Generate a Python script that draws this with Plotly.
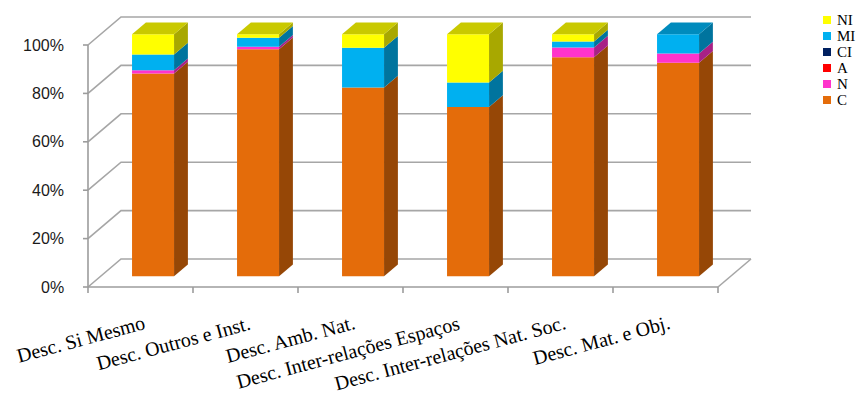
import plotly.graph_objects as go

# ---- data -------------------------------------------------------------
categories = [
    "Desc. Si Mesmo",
    "Desc. Outros e Inst.",
    "Desc. Amb. Nat.",
    "Desc. Inter-relações Espaços",
    "Desc. Inter-relações Nat. Soc.",
    "Desc. Mat. e Obj.",
]
series_names = ["C", "N", "A", "CI", "MI", "NI"]   # stacking order, bottom -> top
C = [83.8, 93.8, 78.0, 70.0, 90.5, 88.3]
N = [1.4, 1.1, 0.0, 0.0, 4.1, 3.8]
A = [0.0, 0.0, 0.0, 0.0, 0.0, 0.0]
CI = [0.0, 0.0, 0.0, 0.0, 0.0, 0.0]
MI = [6.5, 3.7, 16.5, 10.1, 2.4, 7.9]
NI = [8.3, 1.4, 5.5, 19.9, 3.0, 0.0]
series_values = [C, N, A, CI, MI, NI]
series_colors = ["#E46C0A", "#FF33CC", "#FF0000", "#002060", "#00B0F0", "#FFFF00"]
y_ticks = [0, 20, 40, 60, 80, 100]
y_tick_labels = ["0%", "20%", "40%", "60%", "80%", "100%"]

SERIF = '"Liberation Serif", "Times New Roman", Times, serif'
SANS = '"Liberation Sans", Arial, sans-serif'

# ---- oblique 3-D projection (category units, percent units, depth 0..1) ----
PX_PER_CAT = 105.0
PX_PER_PCT = 2.42
DEPTH_X = 33.0 / PX_PER_CAT
DEPTH_Y = 28.0 / PX_PER_PCT
BAR_HALF = 0.2
Z_FRONT, Z_BACK = 0.38, 0.80
GRID = "#A6A6A6"
AXIS = "#9C9C9C"


def proj(x, v, z):
    return x + DEPTH_X * z, v + DEPTH_Y * z


def shade(hex_color, f):
    h = hex_color.lstrip("#")
    r, g, b = (int(h[i:i + 2], 16) for i in (0, 2, 4))
    return "rgb({},{},{})".format(int(r * f), int(g * f), int(b * f))


fig = go.Figure()


def polygon(points, color):
    xs, ys = zip(*[proj(*p) for p in points])
    fig.add_trace(go.Scatter(
        x=list(xs) + [xs[0]], y=list(ys) + [ys[0]], mode="lines",
        fill="toself", fillcolor=color, line=dict(width=0, color=color),
        hoverinfo="skip", showlegend=False))


def segment(points, color, width=1.6):
    xs, ys = zip(*[proj(*p) for p in points])
    fig.add_trace(go.Scatter(
        x=list(xs), y=list(ys), mode="lines",
        line=dict(width=width, color=color),
        hoverinfo="skip", showlegend=False))


n = len(categories)
left, right = -0.5, n - 0.5

# walls: side-wall diagonals and back-wall gridlines
for v in y_ticks:
    segment([(left, v, 0), (left, v, 1), (right, v, 1)], GRID)
# floor right edge
segment([(right, 0, 0), (right, 0, 1)], GRID)

# bars
for i in range(n):
    xl, xr = i - BAR_HALF, i + BAR_HALF
    base = 0.0
    top_color = None
    for vals, col in zip(series_values, series_colors):
        val = vals[i]
        if val <= 0:
            continue
        v0, v1 = base, base + val
        polygon([(xl, v0, Z_FRONT), (xr, v0, Z_FRONT), (xr, v1, Z_FRONT), (xl, v1, Z_FRONT)], col)
        polygon([(xr, v0, Z_FRONT), (xr, v0, Z_BACK), (xr, v1, Z_BACK), (xr, v1, Z_FRONT)],
                shade(col, 0.66))
        base = v1
        top_color = col
    polygon([(xl, base, Z_FRONT), (xr, base, Z_FRONT), (xr, base, Z_BACK), (xl, base, Z_BACK)],
            shade(top_color, 0.79))

# front axes with tick marks
segment([(left, 0, 0), (left, 100, 0)], AXIS)
for v in y_ticks:
    segment([(left - 5 / PX_PER_CAT, v, 0), (left, v, 0)], AXIS)
segment([(left, 0, 0), (right, 0, 0)], AXIS)
for k in range(n + 1):
    segment([(left + k, 0, 0), (left + k, -6 / PX_PER_PCT, 0)], AXIS)

annotations = []
# value axis labels
for v, lab in zip(y_ticks, y_tick_labels):
    annotations.append(dict(
        x=left - 22 / PX_PER_CAT, y=v, xref="x", yref="y", text=lab, showarrow=False,
        xanchor="right", yanchor="middle",
        font=dict(family=SANS, size=16, color="#1a1a1a")))
# category labels, slanted
for i, lab in enumerate(categories):
    annotations.append(dict(
        x=i + 9.5 / PX_PER_CAT, y=-22 / PX_PER_PCT, xref="x", yref="y", text=lab,
        showarrow=False, xanchor="right", yanchor="top", textangle=-15,
        font=dict(family=SERIF, size=20, color="#000000")))

# legend, top entry = last stacked series
W, H = 863, 398
shapes = []
for k, (name, col) in enumerate(zip(reversed(series_names), reversed(series_colors))):
    cy = 20 + 16 * k
    shapes.append(dict(type="rect", xref="paper", yref="paper",
                       x0=823 / W, x1=831 / W, y0=1 - (cy + 4) / H, y1=1 - (cy - 4) / H,
                       fillcolor=col, line=dict(width=0)))
    annotations.append(dict(
        x=836 / W, y=1 - cy / H, xref="paper", yref="paper", text=name, showarrow=False,
        xanchor="left", yanchor="middle", borderpad=0,
        font=dict(family=SERIF, size=15, color="#000000")))

fig.update_layout(
    width=W, height=H, margin=dict(l=0, r=0, t=0, b=0, pad=0),
    paper_bgcolor="white", plot_bgcolor="white", showlegend=False,
    xaxis=dict(range=[-140.5 / PX_PER_CAT, (W - 140.5) / PX_PER_CAT], visible=False, fixedrange=True),
    yaxis=dict(range=[(287 - H) / PX_PER_PCT, 287 / PX_PER_PCT], visible=False, fixedrange=True),
    annotations=annotations, shapes=shapes,
)

fig.write_html("out.html")
